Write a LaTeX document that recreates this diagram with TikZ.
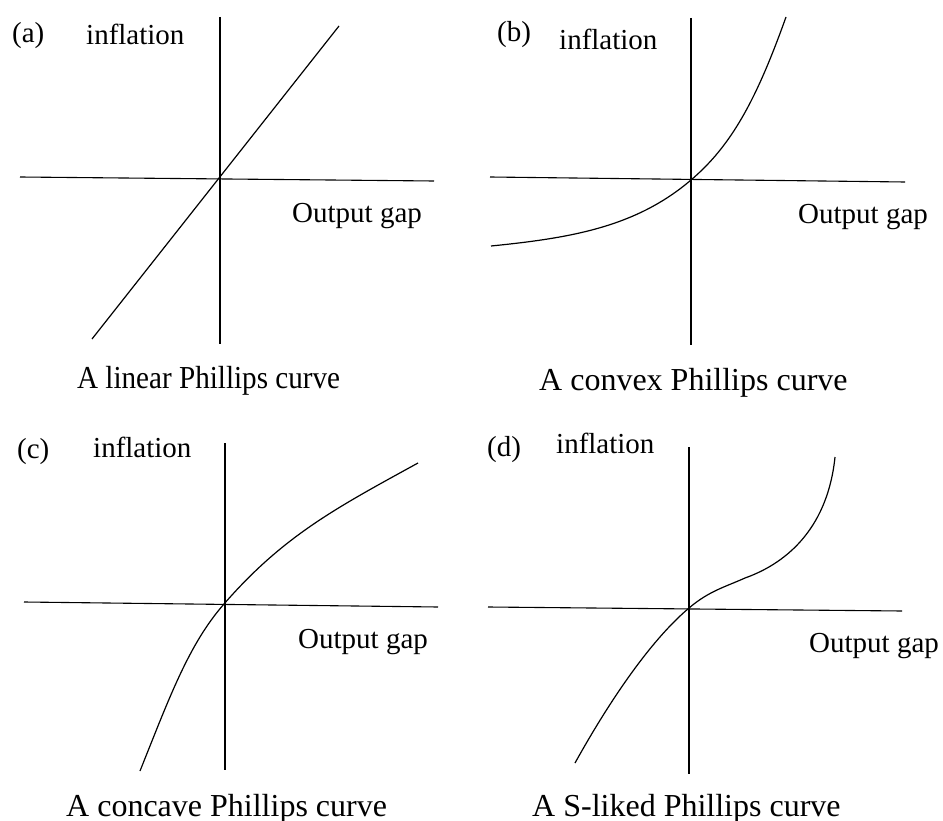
\documentclass[tikz,border=0pt]{standalone}
\usepackage{fontspec}
\setmainfont{Liberation Serif}
\begin{document}
\begin{tikzpicture}[x=1pt,y=-1pt,
  ax/.style={line width=1.1pt,black},
  cv/.style={line width=1.2pt,black},
  lbl/.style={inner sep=0pt,anchor=base west,font=\fontsize{29}{34}\selectfont},
  captxt/.style={inner sep=0pt,anchor=base west,font=\fontsize{32}{38}\selectfont}]
\useasboundingbox[fill=white] (0,0) rectangle (943,821);
% ---------- panel (a)
\coordinate (aT) at (220,17); \coordinate (aB) at (220,344);
\coordinate (aL) at (20,177); \coordinate (aR) at (434,181);
\coordinate (a1) at (92,339); \coordinate (a2) at (339,26);
\draw[ax] (aT) -- (aB);
\draw[ax] (aL) -- (aR);
\draw[cv] (a1) -- (a2);
\node[lbl] (la) at (12,43) {(a)};
\node[lbl] (ia) at (86,45) {inflation};
\node[lbl] (oa) at (292,223) {Output gap};
\node[captxt,xscale=0.91] (ca) at (77,388) {A linear Phillips curve};
% ---------- panel (b)
\coordinate (bT) at (691,18); \coordinate (bB) at (691,345);
\coordinate (bL) at (490,177); \coordinate (bR) at (905,182);
\coordinate (b1) at (491,246); \coordinate (b0) at (691,180); \coordinate (b2) at (786,17);
\draw[ax] (bT) -- (bB);
\draw[ax] (bL) -- (bR);
\draw[cv] (b1) .. controls (571,238) and (636,227) .. (b0)
               .. controls (731,146) and (756,101) .. (b2);
\node[lbl] (lb) at (497,42) {(b)};
\node[lbl] (ib) at (559,50) {inflation};
\node[lbl] (ob) at (798,224) {Output gap};
\node[captxt] (cb) at (539,390) {A convex Phillips curve};
% ---------- panel (c)
\coordinate (cT) at (225,443); \coordinate (cB) at (225,770);
\coordinate (cL) at (24,602); \coordinate (cR) at (438,607);
\coordinate (c1) at (140,771); \coordinate (c0) at (224,604); \coordinate (c2) at (418,463);
\draw[ax] (cT) -- (cB);
\draw[ax] (cL) -- (cR);
\draw[cv] (c1) .. controls (170,696) and (189,644) .. (c0)
               .. controls (284,535) and (338,507) .. (c2);
\node[lbl] (lc) at (17,458) {(c)};
\node[lbl] (ic) at (93,457) {inflation};
\node[lbl] (oc) at (298,648) {Output gap};
\node[captxt] (cc) at (66,816) {A concave Phillips curve};
% ---------- panel (d)
\coordinate (dT) at (689,447); \coordinate (dB) at (689,774);
\coordinate (dL) at (488,607); \coordinate (dR) at (902,611);
\coordinate (d1) at (575,763); \coordinate (d0) at (689,608); \coordinate (dm) at (745,578); \coordinate (d2) at (835,457);
\draw[ax] (dT) -- (dB);
\draw[ax] (dL) -- (dR);
\draw[cv] (d1) .. controls (600,718) and (644,646) .. (d0)
               .. controls (709,591) and (725,587) .. (dm)
               .. controls (790,562) and (828,525) .. (d2);
\node[lbl] (ld) at (487,456) {(d)};
\node[lbl] (id) at (556,453) {inflation};
\node[lbl] (od) at (809,652) {Output gap};
\node[captxt] (cd) at (532,816) {A S-liked Phillips curve};
\end{tikzpicture}
\end{document}
